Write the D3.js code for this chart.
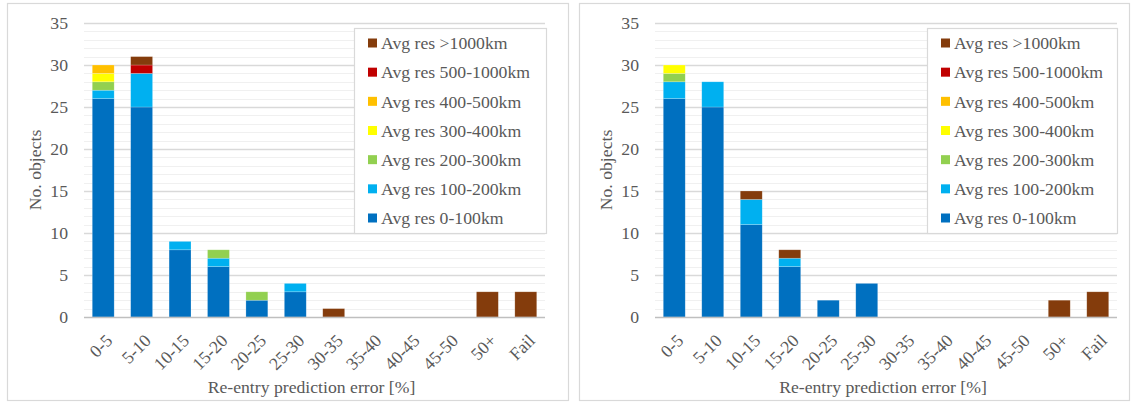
<!DOCTYPE html>
<html>
<head>
<meta charset="utf-8">
<script src="https://cdn.jsdelivr.net/npm/d3@7"></script>
<style>
  html, body { margin: 0; padding: 0; background: #fff; }
  svg { display: block; }
</style>
</head>
<body>
<svg id="chart" width="1132" height="407"></svg>
<script>
// Error bins on the x axis
const categories = ["0-5", "5-10", "10-15", "15-20", "20-25", "25-30", "30-35", "35-40", "40-45", "45-50", "50+", "Fail"];

// Residual bands (stack order bottom -> top)
const seriesNames = ["Avg res 0-100km", "Avg res 100-200km", "Avg res 200-300km", "Avg res 300-400km",
                     "Avg res 400-500km", "Avg res 500-1000km", "Avg res >1000km"];
const seriesColors = ["#0070C0", "#00B0F0", "#92D050", "#FFFF00", "#FFC000", "#C00000", "#843C0C"];

// Left panel: counts per band, one array per band, aligned with categories
const leftRes0_100     = [26, 25, 8, 6, 2, 3, 0, 0, 0, 0, 0, 0];
const leftRes100_200   = [1, 4, 1, 1, 0, 1, 0, 0, 0, 0, 0, 0];
const leftRes200_300   = [1, 0, 0, 1, 1, 0, 0, 0, 0, 0, 0, 0];
const leftRes300_400   = [1, 0, 0, 0, 0, 0, 0, 0, 0, 0, 0, 0];
const leftRes400_500   = [1, 0, 0, 0, 0, 0, 0, 0, 0, 0, 0, 0];
const leftRes500_1000  = [0, 1, 0, 0, 0, 0, 0, 0, 0, 0, 0, 0];
const leftResOver1000  = [0, 1, 0, 0, 0, 0, 1, 0, 0, 0, 3, 3];

// Right panel
const rightRes0_100    = [26, 25, 11, 6, 2, 4, 0, 0, 0, 0, 0, 0];
const rightRes100_200  = [2, 3, 3, 1, 0, 0, 0, 0, 0, 0, 0, 0];
const rightRes200_300  = [1, 0, 0, 0, 0, 0, 0, 0, 0, 0, 0, 0];
const rightRes300_400  = [1, 0, 0, 0, 0, 0, 0, 0, 0, 0, 0, 0];
const rightRes400_500  = [0, 0, 0, 0, 0, 0, 0, 0, 0, 0, 0, 0];
const rightRes500_1000 = [0, 0, 0, 0, 0, 0, 0, 0, 0, 0, 0, 0];
const rightResOver1000 = [0, 0, 1, 1, 0, 0, 0, 0, 0, 0, 2, 3];

const yTicks = [0, 5, 10, 15, 20, 25, 30, 35];
const yTitle = "No. objects";
const xTitle = "Re-entry prediction error [%]";

const leftSeries = [leftRes0_100, leftRes100_200, leftRes200_300, leftRes300_400, leftRes400_500, leftRes500_1000, leftResOver1000];
const rightSeries = [rightRes0_100, rightRes100_200, rightRes200_300, rightRes300_400, rightRes400_500, rightRes500_1000, rightResOver1000];

const svg = d3.select("#chart");
const FAMILY = "Liberation Serif";
const FONT = 17.7;
const TEXT = "#595959";

// common text styling
function label(sel) {
  return sel.attr("font-family", FAMILY).attr("font-size", FONT).attr("fill", TEXT);
}

function drawPanel(series, frame) {
  const g = svg.append("g");

  // outer frame
  g.append("rect")
    .attr("x", frame.x0 + 0.5).attr("y", frame.y0 + 0.5)
    .attr("width", frame.x1 - frame.x0).attr("height", frame.y1 - frame.y0)
    .attr("fill", "#fff").attr("stroke", "#d9d9d9").attr("stroke-width", 1.2);

  const x = d3.scaleBand().domain(categories).range([frame.px0, frame.px1]).paddingInner(0.43).paddingOuter(0.215);
  const y = d3.scaleLinear().domain([0, 35]).range([frame.py1, frame.py0]);

  // minor gridlines every unit, major every 5
  const minor = d3.range(1, 36).filter(v => v % 5 !== 0);
  g.append("g").selectAll("line").data(minor).join("line")
    .attr("x1", frame.px0).attr("x2", frame.px1)
    .attr("y1", d => Math.round(y(d)) + 0.5).attr("y2", d => Math.round(y(d)) + 0.5)
    .attr("stroke", "#f0f0f0").attr("stroke-width", 1);
  g.append("g").selectAll("line").data(yTicks.filter(v => v > 0)).join("line")
    .attr("x1", frame.px0).attr("x2", frame.px1)
    .attr("y1", d => Math.round(y(d)) + 0.5).attr("y2", d => Math.round(y(d)) + 0.5)
    .attr("stroke", "#d9d9d9").attr("stroke-width", 1.3);

  // stacked bars
  const rows = categories.map((c, i) => {
    const r = { cat: c };
    seriesNames.forEach((s, k) => { r[s] = series[k][i]; });
    return r;
  });
  const stacked = d3.stack().keys(seriesNames)(rows);
  g.append("g").selectAll("g").data(stacked).join("g")
    .attr("fill", (d, k) => seriesColors[k])
    .selectAll("rect").data(d => d.filter(p => p[1] - p[0] > 0)).join("rect")
    .attr("x", p => x(p.data.cat))
    .attr("width", x.bandwidth())
    .attr("y", p => y(p[1]))
    .attr("height", p => y(p[0]) - y(p[1]))
    .attr("stroke", "rgba(255,255,255,0.35)").attr("stroke-width", 0.6);

  // x axis baseline
  g.append("line")
    .attr("x1", frame.px0).attr("x2", frame.px1)
    .attr("y1", frame.py1 + 0.5).attr("y2", frame.py1 + 0.5)
    .attr("stroke", "#bfbfbf").attr("stroke-width", 1.6);

  // y tick labels
  g.append("g").selectAll("text").data(yTicks).join("text")
    .attr("x", frame.px0 - 16).attr("y", d => y(d))
    .attr("dy", "0.35em").attr("text-anchor", "end")
    .call(label).text(d => d);

  // x tick labels, rotated
  g.append("g").selectAll("text").data(categories).join("text")
    .attr("transform", c => `translate(${x(c) + x.bandwidth() / 2 + 1.5},${frame.py1 + 16}) rotate(-45)`)
    .attr("text-anchor", "end").attr("dy", "0.7em")
    .call(label).text(c => c);

  // axis titles
  g.append("text")
    .attr("x", (frame.px0 + frame.px1) / 2 - 3).attr("y", 393)
    .attr("text-anchor", "middle").call(label).text(xTitle);
  g.append("text")
    .attr("transform", `translate(${frame.px0 - 43},${(frame.py0 + frame.py1) / 2}) rotate(-90)`)
    .attr("text-anchor", "middle").call(label).text(yTitle);

  // legend (top band first)
  const lg = g.append("g");
  lg.append("rect")
    .attr("x", frame.lx0 + 0.5).attr("y", 28.5)
    .attr("width", frame.lx1 - frame.lx0).attr("height", 205)
    .attr("fill", "#fff").attr("stroke", "#d9d9d9").attr("stroke-width", 1.2);
  const order = d3.range(seriesNames.length).reverse();
  const rowY = d3.scalePoint().domain(order).range([43, 218]);
  const items = lg.selectAll("g").data(order).join("g")
    .attr("transform", k => `translate(${frame.lx0 + 14},${rowY(k)})`);
  items.append("rect").attr("x", 0).attr("y", -4.5).attr("width", 9).attr("height", 9)
    .attr("fill", k => seriesColors[k]);
  items.append("text").attr("x", 13).attr("dy", "0.35em")
    .call(label).text(k => seriesNames[k]);
}

drawPanel(leftSeries, { x0: 7, x1: 568, y0: 3, y1: 400, px0: 84, px1: 545, py0: 23, py1: 317, lx0: 354, lx1: 546 });
drawPanel(rightSeries, { x0: 579, x1: 1129, y0: 3, y1: 400, px0: 655, px1: 1117, py0: 23, py1: 317, lx0: 927, lx1: 1117 });
</script>
</body>
</html>
